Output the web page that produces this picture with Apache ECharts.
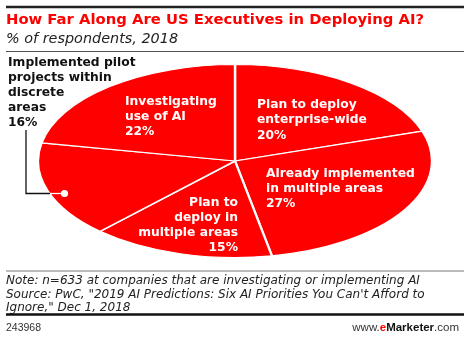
<!DOCTYPE html>
<html>
<head>
<meta charset="utf-8">
<script src="https://cdn.jsdelivr.net/npm/echarts@6/dist/echarts.min.js"></script>
<style>
html,body{margin:0;padding:0;background:#fff;width:470px;height:341px;overflow:hidden;}
#pie{position:absolute;left:0;top:-39.5px;width:470px;height:400px;transform:scaleY(0.49);transform-origin:50% 50%;z-index:1;}
#main{position:absolute;left:0;top:0;width:470px;height:341px;z-index:2;}
</style>
</head>
<body>
<div id="pie"></div>
<div id="main"></div>
<script>
// ---- data ----
var categories = [
  'Plan to deploy\nenterprise-wide',
  'Already implemented\nin multiple areas',
  'Plan to\ndeploy in\nmultiple areas',
  'Implemented pilot\nprojects within\ndiscrete\nareas',
  'Investigating\nuse of AI'
];
var values = [20, 27, 15, 16, 22];
var titleText = 'How Far Along Are US Executives in Deploying AI?';
var subtitleText = '% of respondents, 2018';
var noteLines = [
  'Note: n=633 at companies that are investigating or implementing AI',
  'Source: PwC, "2019 AI Predictions: Six AI Priorities You Can\'t Afford to',
  'Ignore," Dec 1, 2018'
];
var chartId = '243968';

var RED = '#ff0000';

// ---- pie (elliptical via vertical CSS squash) ----
var pie = echarts.init(document.getElementById('pie'), null, {renderer: 'svg'});
pie.setOption({
  animation: false,
  series: [{
    type: 'pie',
    center: [235, 200],
    radius: [0, 197],
    startAngle: 90,
    clockwise: true,
    silent: true,
    label: {show: false},
    labelLine: {show: false},
    itemStyle: {color: RED, borderColor: '#fff', borderWidth: 2.4},
    data: categories.map(function (c, i) { return {name: c, value: values[i]}; })
  }]
});

// ---- text & rules layer ----
function lbl(i) { return categories[i] + '\n' + values[i] + '%'; }
var LF = 'bold 12.3px "DejaVu Sans", sans-serif';
var main = echarts.init(document.getElementById('main'));
main.setOption({
  animation: false,
  backgroundColor: 'transparent',
  graphic: [
    {type: 'line', shape: {x1: 6, y1: 7, x2: 464, y2: 7}, style: {stroke: '#222', lineWidth: 2.5}},
    {type: 'text', x: 6, y: 20.5, style: {text: titleText, fill: RED, font: 'bold 14.8px "DejaVu Sans", sans-serif', verticalAlign: 'middle'}},
    {type: 'text', x: 6, y: 39.5, style: {text: subtitleText, fill: '#222', font: 'oblique 14.4px "DejaVu Sans", sans-serif', verticalAlign: 'middle'}},
    {type: 'line', shape: {x1: 6, y1: 51.5, x2: 464, y2: 51.5}, style: {stroke: '#555', lineWidth: 1}},

    // slice labels
    {type: 'text', x: 125, y: 94.5, style: {text: lbl(4), fill: '#fff', font: LF, lineHeight: 15, verticalAlign: 'top'}},
    {type: 'text', x: 257, y: 97, style: {text: lbl(0), fill: '#fff', font: LF, lineHeight: 15.5, verticalAlign: 'top'}},
    {type: 'text', x: 266, y: 166.5, style: {text: lbl(1), fill: '#fff', font: LF, lineHeight: 14.8, verticalAlign: 'top'}},
    {type: 'text', x: 238, y: 195.5, style: {text: lbl(2), fill: '#fff', font: LF, lineHeight: 15, verticalAlign: 'top', align: 'right'}},
    {type: 'text', x: 8, y: 55, style: {text: lbl(3), fill: '#111', font: LF, lineHeight: 15, verticalAlign: 'top'}},

    // leader for outside label
    {type: 'polyline', shape: {points: [[26, 130], [26, 193.5], [50, 193.5]]}, style: {stroke: '#111', lineWidth: 1.3, fill: null}},
    {type: 'line', shape: {x1: 50, y1: 193.5, x2: 63, y2: 193.5}, style: {stroke: '#fff', lineWidth: 1.3}},
    {type: 'circle', shape: {cx: 64.5, cy: 193.5, r: 3.6}, style: {fill: '#fff'}},

    // footer
    {type: 'line', shape: {x1: 6, y1: 271, x2: 464, y2: 271}, style: {stroke: '#777', lineWidth: 1}},
    {type: 'text', x: 6, y: 274, style: {text: noteLines.join('\n'), fill: '#222', font: 'oblique 12px "DejaVu Sans", sans-serif', lineHeight: 13.7, verticalAlign: 'top'}},
    {type: 'line', shape: {x1: 6, y1: 314.5, x2: 464, y2: 314.5}, style: {stroke: '#111', lineWidth: 2.5}},
    {type: 'text', x: 6, y: 328, style: {text: chartId, fill: '#333', font: '10.5px "Liberation Sans", Arial, sans-serif', verticalAlign: 'middle'}},
    {type: 'text', x: 459, y: 328, style: {
      text: '{a|www.}{b|e}{c|Marketer}{a|.com}', align: 'right', verticalAlign: 'middle',
      rich: {
        a: {fill: '#333', font: '11.5px "Liberation Sans", Arial, sans-serif'},
        b: {fill: RED, font: 'bold 11.5px "Liberation Sans", Arial, sans-serif'},
        c: {fill: '#111', font: 'bold 11.5px "Liberation Sans", Arial, sans-serif'}
      }
    }}
  ]
});
</script>
</body>
</html>
